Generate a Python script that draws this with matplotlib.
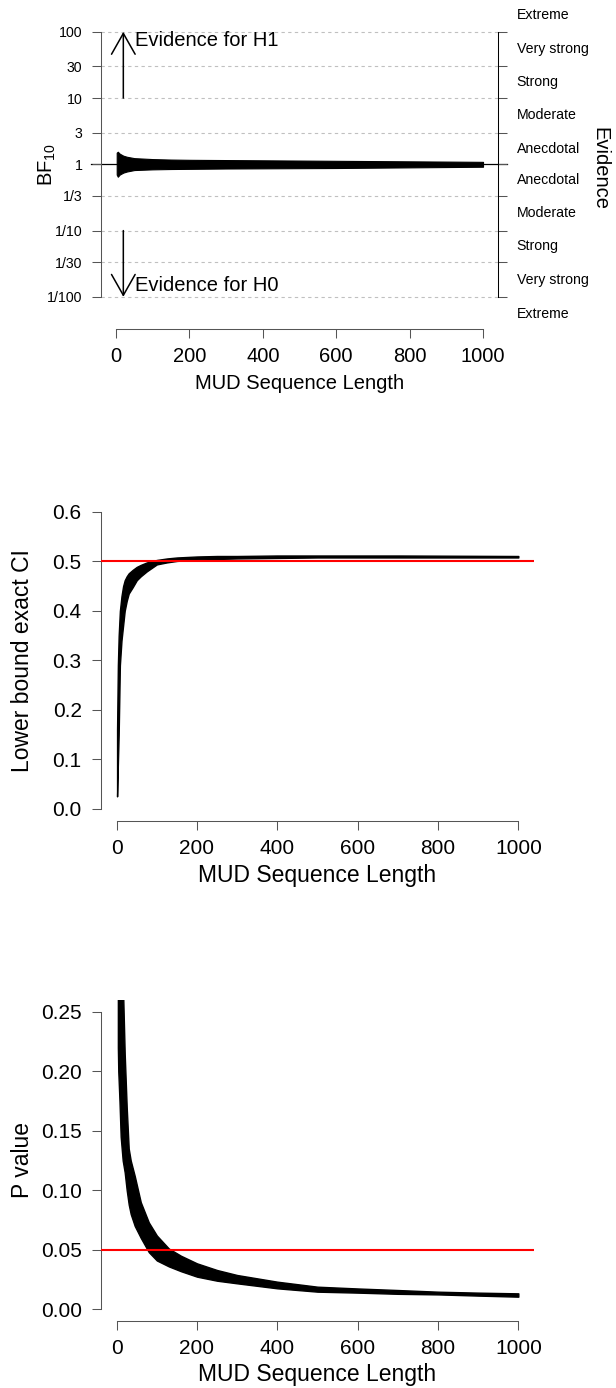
import numpy as np
import matplotlib
matplotlib.use("Agg")
import matplotlib.pyplot as plt
from matplotlib.ticker import FormatStrFormatter

plt.rcParams["font.family"] = ["Liberation Sans", "DejaVu Sans"]
plt.rcParams["mathtext.fontset"] = "custom"
plt.rcParams["mathtext.rm"] = "Liberation Sans"
plt.rcParams["mathtext.it"] = "Liberation Sans:italic"

# ---- data (upper / lower envelope of the zigzag) ----
bf_x = [2, 5, 10, 20, 30, 50, 75, 100, 150, 200, 300, 400, 500, 600, 700, 800, 900, 1000]
bf_upper = [1.50, 1.55, 1.45, 1.35, 1.30, 1.24, 1.22, 1.20, 1.18, 1.17, 1.16, 1.15, 1.14, 1.13, 1.12, 1.11, 1.10, 1.09]
bf_lower = [0.70, 0.65, 0.70, 0.75, 0.78, 0.82, 0.83, 0.84, 0.85, 0.855, 0.865, 0.87, 0.875, 0.88, 0.89, 0.90, 0.91, 0.92]

ci_x = [1, 3, 5, 8, 12, 16, 20, 25, 30, 40, 50, 60, 75, 100, 125, 150, 200, 250, 300, 400, 500, 700, 1000]
ci_upper = [0.16, 0.29, 0.35, 0.40, 0.43, 0.45, 0.462, 0.47, 0.476, 0.483, 0.489, 0.493, 0.498, 0.503, 0.506, 0.508, 0.510, 0.511, 0.511, 0.512, 0.512, 0.512, 0.511]
ci_lower = [0.025, 0.09, 0.15, 0.29, 0.34, 0.37, 0.40, 0.42, 0.435, 0.448, 0.462, 0.47, 0.48, 0.494, 0.498, 0.501, 0.504, 0.505, 0.506, 0.507, 0.508, 0.508, 0.508]

p_x = [3, 4, 7, 10, 15, 20, 25, 30, 35, 45, 60, 80, 100, 130, 160, 200, 250, 300, 400, 500, 600, 700, 800, 900, 1000]
p_upper = [0.30, 0.30, 0.30, 0.30, 0.28, 0.215, 0.17, 0.135, 0.125, 0.112, 0.09, 0.073, 0.062, 0.051, 0.045, 0.0386, 0.033, 0.0288, 0.0232, 0.019, 0.0175, 0.0162, 0.0148, 0.014, 0.0134]
p_lower = [0.22, 0.20, 0.175, 0.145, 0.125, 0.115, 0.100, 0.088, 0.080, 0.070, 0.060, 0.048, 0.041, 0.036, 0.032, 0.0274, 0.024, 0.0218, 0.0176, 0.0148, 0.014, 0.013, 0.0125, 0.0115, 0.0106]

x_ticks = [0, 200, 400, 600, 800, 1000]
bf_ticks = [1 / 100, 1 / 30, 1 / 10, 1 / 3, 1, 3, 10, 30, 100]
bf_tick_labels = ["1/100", "1/30", "1/10", "1/3", "1", "3", "10", "30", "100"]
evidence_labels = ["Extreme", "Very strong", "Strong", "Moderate", "Anecdotal",
                   "Anecdotal", "Moderate", "Strong", "Very strong", "Extreme"]
ci_ticks = [0.0, 0.1, 0.2, 0.3, 0.4, 0.5, 0.6]
p_ticks = [0.00, 0.05, 0.10, 0.15, 0.20, 0.25]
ci_ref = 0.5
p_ref = 0.05

W, H = 616, 1388
AXIS_GREY = "#555555"

fig = plt.figure(figsize=(W / 100, H / 100), dpi=100)


def px_axes(left, top, right, bottom):
    return fig.add_axes([left / W, 1 - bottom / H, (right - left) / W, (bottom - top) / H])


def r_style(ax, xbounds, ybounds, tick_size):
    for side in ("top", "right"):
        ax.spines[side].set_visible(False)
    for side in ("left", "bottom"):
        ax.spines[side].set_color(AXIS_GREY)
        ax.spines[side].set_linewidth(0.75)
    ax.spines["bottom"].set_bounds(*xbounds)
    ax.spines["left"].set_bounds(*ybounds)
    ax.tick_params(axis="both", direction="out", length=6.6, width=0.75,
                   color=AXIS_GREY, labelcolor="black")
    ax.tick_params(axis="x", pad=6.5, labelsize=tick_size)
    ax.tick_params(axis="y", pad=7)
    ax.set_xlim(-40, 1040)
    ax.set_xticks(x_ticks)


# ---------------- top: Bayes factor ----------------
ax1 = px_axes(101.3, 0.7, 497.7, 329.3)
ax1.set_yscale("log")
ax1.set_ylim(10 ** -2.49, 10 ** 2.47)
r_style(ax1, (0, 1000), (bf_ticks[0], bf_ticks[-1]), 14.5)
ax1.set_yticks(bf_ticks)
ax1.set_yticklabels(bf_tick_labels)
ax1.minorticks_off()
ax1.tick_params(axis="y", labelsize=10.2, right=True, labelright=False)
ax1.spines["right"].set_visible(True)
ax1.spines["right"].set_color("black")
ax1.spines["right"].set_linewidth(0.75)
ax1.spines["right"].set_bounds(bf_ticks[0], bf_ticks[-1])
for t in ax1.yaxis.get_major_ticks():
    t.tick2line.set_color("black")

for v in bf_ticks:
    if v != 1:
        ax1.axhline(v, color="#c0c0c0", lw=0.8, ls=(0, (3, 3)), zorder=0)
ax1.plot([-0.026, 1.024], [1, 1], transform=ax1.get_yaxis_transform(),
         color="black", lw=0.9, clip_on=False, zorder=1)
ax1.fill_between(bf_x, bf_lower, bf_upper, color="black", lw=0.8, zorder=2)

arrow_kw = dict(arrowstyle="->,head_length=1.5,head_width=0.85", color="black",
                lw=1.1, shrinkA=0, shrinkB=0, mutation_scale=10)
ax1.annotate("", xy=(20, 100), xytext=(20, 10), arrowprops=arrow_kw)
ax1.annotate("", xy=(20, 1 / 100), xytext=(20, 1 / 10), arrowprops=arrow_kw)
ax1.text(52, 10 ** 1.87, "Evidence for H1", fontsize=14.5, va="center", ha="left")
ax1.text(52, 10 ** -1.83, "Evidence for H0", fontsize=14.5, va="center", ha="left")

edges = np.log10(bf_ticks[::-1])
gap = edges[0] - edges[1]
mids = np.concatenate([[edges[0] + gap / 2], (edges[:-1] + edges[1:]) / 2, [edges[-1] - gap / 2]])
for lab, m in zip(evidence_labels, mids):
    ax1.text(1.048, 10 ** m, lab, transform=ax1.get_yaxis_transform(),
             fontsize=10.2, ha="left", va="center", clip_on=False)
ax1.text(1.258, 0.488, "Evidence", transform=ax1.transAxes, rotation=-90,
         fontsize=14.5, ha="center", va="center")

ax1.set_ylabel(r"BF$_{10}$", fontsize=14.5)
ax1.yaxis.label.set_va("center")
ax1.yaxis.set_label_coords(-0.136, 0.5)
ax1.set_xlabel("MUD Sequence Length", fontsize=14.5)
ax1.xaxis.label.set_va("center")
ax1.xaxis.set_label_coords(0.5, -0.164)

# ---------------- middle: lower bound CI ----------------
ax2 = px_axes(100.6, 500.1, 534.4, 820.6)
ax2.set_ylim(-0.024, 0.624)
r_style(ax2, (0, 1000), (0, 0.6), 15)
ax2.set_yticks(ci_ticks)
ax2.yaxis.set_major_formatter(FormatStrFormatter("%.1f"))
ax2.tick_params(axis="y", labelsize=15)
ax2.fill_between(ci_x, ci_lower, ci_upper, color="black", lw=1.0, zorder=2)
ax2.axhline(ci_ref, color="#ff0000", lw=1.5, zorder=3)
ax2.set_ylabel("Lower bound exact CI", fontsize=16.5)
ax2.yaxis.label.set_va("center")
ax2.yaxis.set_label_coords(-0.181, 0.5)
ax2.set_xlabel("MUD Sequence Length", fontsize=16.5)
ax2.xaxis.label.set_va("center")
ax2.xaxis.set_label_coords(0.5, -0.172)

# ---------------- bottom: p value ----------------
ax3 = px_axes(100.6, 999.8, 534.4, 1321.2)
ax3.set_ylim(-0.01, 0.26)
r_style(ax3, (0, 1000), (0, 0.25), 15)
ax3.set_yticks(p_ticks)
ax3.yaxis.set_major_formatter(FormatStrFormatter("%.2f"))
ax3.tick_params(axis="y", labelsize=15)
ax3.fill_between(p_x, p_lower, p_upper, color="black", lw=1.0, zorder=2)
ax3.axhline(p_ref, color="#ff0000", lw=1.5, zorder=3)
ax3.set_ylabel("P value", fontsize=16.5)
ax3.yaxis.label.set_va("center")
ax3.yaxis.set_label_coords(-0.181, 0.5)
ax3.set_xlabel("MUD Sequence Length", fontsize=16.5)
ax3.xaxis.label.set_va("center")
ax3.xaxis.set_label_coords(0.5, -0.165)

fig.savefig("out.png", dpi=100)
